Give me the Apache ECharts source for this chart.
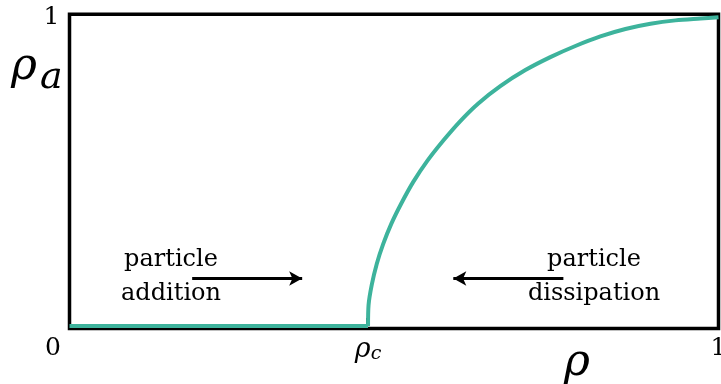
<!DOCTYPE html>
<html>
<head>
<meta charset="utf-8">
<script src="https://cdn.jsdelivr.net/npm/echarts@6.0.0/dist/echarts.min.js"></script>
<style>
  html, body { margin: 0; padding: 0; background: #fff; }
  #chart { width: 721px; height: 384px; }
</style>
</head>
<body>
<div id="chart"></div>
<script>
// critical density
const rhoC = 0.46
// absorbing branch (rho < rhoC)
const flatRho = [0, 0.46]
const flatRhoA = [0, 0]
// active branch
const riseRho = [0.46, 0.4608, 0.4657, 0.4734, 0.4834, 0.4958, 0.5112, 0.5297, 0.5513, 0.576, 0.6022, 0.6299, 0.6638, 0.7024, 0.7409, 0.7795, 0.818, 0.8566, 0.8952, 0.9337, 0.9723, 1.0]
const riseRhoA = [0, 0.068, 0.133, 0.201, 0.266, 0.331, 0.397, 0.467, 0.535, 0.601, 0.664, 0.721, 0.777, 0.829, 0.871, 0.907, 0.938, 0.962, 0.979, 0.99, 0.996, 1.0]
const xTickValues = [0, rhoC, 1]
const xTickLabels = ['0', 'ρc', '1']
const yTickValues = [1]
const yTickLabels = ['1']

const teal = '#3db39c'
const serif = 'DejaVu Serif'

const zip = (a, b) => a.map((v, i) => [v, b[i]])

const chart = echarts.init(document.getElementById('chart'))
chart.setOption({
  animation: false,
  grid: {
    left: 69.5,
    right: 2.5,
    top: 14.2,
    bottom: 55.5,
    show: true,
    borderColor: '#000',
    borderWidth: 3.5,
    backgroundColor: 'transparent',
    containLabel: false,
    outerBoundsMode: 'none'
  },
  xAxis: {
    type: 'value',
    min: 0,
    max: 1,
    axisLine: { show: false },
    splitLine: { show: false },
    axisTick: {
      show: true,
      customValues: [rhoC],
      inside: true,
      length: 8,
      lineStyle: { color: '#000', width: 4 }
    },
    axisLabel: {
      customValues: xTickValues,
      margin: 7,
      color: '#000',
      formatter: function (value) {
        const label = xTickLabels[xTickValues.indexOf(value)]
        if (value === 0) return '{zero|' + label + '}'
        if (value === rhoC) return '{rho|ρ}{sub|c}'
        return '{num|' + label + '}'
      },
      rich: {
        zero: { fontFamily: serif, fontSize: 25, color: '#000', padding: [0, 33, 0, 0] },
        num: { fontFamily: serif, fontSize: 25, color: '#000' },
        rho: { fontFamily: serif, fontStyle: 'italic', fontSize: 27, color: '#000' },
        sub: { fontFamily: serif, fontStyle: 'italic', fontSize: 19, color: '#000', padding: [9, 0, 0, 0] }
      }
    }
  },
  yAxis: {
    type: 'value',
    min: -0.008,
    max: 1.01,
    axisLine: { show: false },
    splitLine: { show: false },
    axisTick: { show: false },
    axisLabel: {
      customValues: yTickValues,
      formatter: function (value) {
        return yTickLabels[yTickValues.indexOf(value)]
      },
      margin: 10,
      fontFamily: serif,
      fontSize: 25,
      color: '#000'
    }
  },
  series: [
    {
      type: 'line',
      data: zip(flatRho, flatRhoA),
      symbol: 'none',
      lineStyle: { color: teal, width: 4 }
    },
    {
      type: 'line',
      data: zip(riseRho, riseRhoA),
      symbol: 'none',
      smooth: 0.3,
      lineStyle: { color: teal, width: 4 },
      markLine: {
        silent: true,
        symbol: ['none', 'arrow'],
        symbolSize: [11, 13],
        label: { show: false },
        lineStyle: { color: '#000', width: 3, type: 'solid' },
        data: [
          [{ coord: [0.189, 0.154] }, { coord: [0.3585, 0.154] }],
          [{ coord: [0.761, 0.154] }, { coord: [0.5914, 0.154] }]
        ]
      }
    }
  ],
  graphic: [
    {
      type: 'text',
      style: { text: 'ρ', x: 11, y: 68, font: 'italic 44px ' + serif, fill: '#000', align: 'left', verticalAlign: 'middle' }
    },
    {
      type: 'text',
      style: { text: 'a', x: 40, y: 78, font: 'italic 38px ' + serif, fill: '#000', align: 'left', verticalAlign: 'middle' }
    },
    {
      type: 'text',
      style: { text: 'ρ', x: 577, y: 364, font: 'italic 44px ' + serif, fill: '#000', align: 'center', verticalAlign: 'middle' }
    },
    {
      type: 'text',
      style: { text: 'particle\naddition', x: 171, y: 277, font: '24px ' + serif, lineHeight: 34, fill: '#000', align: 'center', verticalAlign: 'middle' }
    },
    {
      type: 'text',
      style: { text: 'particle\ndissipation', x: 594, y: 277, font: '24px ' + serif, lineHeight: 34, fill: '#000', align: 'center', verticalAlign: 'middle' }
    }
  ]
})
</script>
</body>
</html>
